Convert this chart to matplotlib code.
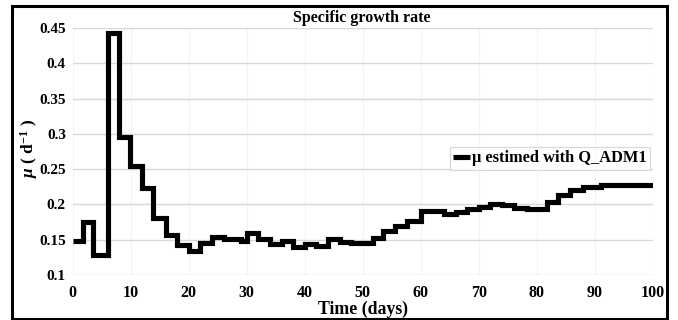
import matplotlib
matplotlib.use("Agg")
import matplotlib.pyplot as plt
from matplotlib.patches import Rectangle

# Step edges (days) and specific growth rate values (d^-1)
time_days = [0, 1.8, 3.5, 6.1, 8, 9.9, 11.9, 13.9, 16, 18, 20, 22, 24, 26, 29,
             30, 32, 34, 36, 38, 40, 42, 44, 46, 48, 51.8, 53.5, 55.6, 57.6,
             60, 64, 66, 68, 70, 72, 74, 76, 78.3, 81.8, 83.7, 85.7, 88, 91,
             95.6, 100]
mu_values = [0.148, 0.175, 0.129, 0.443, 0.296, 0.254, 0.223, 0.181, 0.157,
             0.143, 0.134, 0.145, 0.154, 0.151, 0.148, 0.159, 0.151, 0.144,
             0.148, 0.140, 0.144, 0.141, 0.151, 0.147, 0.145, 0.152, 0.162,
             0.170, 0.176, 0.190, 0.186, 0.189, 0.193, 0.197, 0.201, 0.199,
             0.195, 0.194, 0.204, 0.214, 0.220, 0.225, 0.227, 0.228, 0.228]

x_ticks = [0, 10, 20, 30, 40, 50, 60, 70, 80, 90, 100]
y_ticks = [0.1, 0.15, 0.2, 0.25, 0.3, 0.35, 0.4, 0.45]
y_tick_labels = ["0.1", "0.15", "0.2", "0.25", "0.3", "0.35", "0.4", "0.45"]

title = "Specific growth rate"
x_label = "Time (days)"
y_label = r"$\mu$ ( d$^{-1}$ )"
legend_label = "\u03bc estimed with Q_ADM1"

plt.rcParams["font.family"] = ["Liberation Serif", "DejaVu Serif"]
plt.rcParams["font.weight"] = "bold"
plt.rcParams["mathtext.fontset"] = "custom"
plt.rcParams["mathtext.rm"] = "Liberation Serif:bold"
plt.rcParams["mathtext.it"] = "Liberation Serif:italic:bold"

W, H = 678, 320
fig = plt.figure(figsize=(W / 100, H / 100), dpi=100)
left, right, top, bottom = 72.7, 652.7, 28, 275
ax = fig.add_axes([left / W, 1 - bottom / H, (right - left) / W, (bottom - top) / H])

ax.plot(time_days, mu_values, drawstyle="steps-post", color="black", lw=3.7,
        solid_joinstyle="miter", solid_capstyle="butt", label=legend_label)

ax.set_xlim(0, 100)
ax.set_ylim(0.1, 0.45)
ax.set_xticks(x_ticks)
ax.set_yticks(y_ticks)
ax.set_yticklabels(y_tick_labels)
ax.tick_params(axis="both", length=0)
ax.tick_params(axis="x", pad=7, labelsize=11.5)
ax.tick_params(axis="y", pad=5, labelsize=11)
for lab in ax.get_xticklabels() + ax.get_yticklabels():
    lab.set_fontweight("bold")

ax.grid(axis="y", color="#d8d8d8", lw=1.0)
ax.grid(axis="x", color="#f3f3f3", lw=0.8)
ax.set_axisbelow(True)
for s in ax.spines.values():
    s.set_visible(False)

ax.set_xlabel(x_label, fontsize=12.8, fontweight="bold")
ax.xaxis.set_label_coords(0.5, (bottom - 309) / (bottom - top))
ax.xaxis.label.set_verticalalignment("center")
ax.set_ylabel(y_label, fontsize=12.5, fontweight="bold")
ax.yaxis.set_label_coords((29 - left) / (right - left), (bottom - 148) / (bottom - top))
ax.yaxis.label.set_verticalalignment("center")

fig.text(362 / W, 1 - 22.5 / H, title, ha="center", va="baseline",
         fontsize=11.5, fontweight="bold")

leg = ax.legend(loc="upper right",
                bbox_to_anchor=((650 - left) / (right - left), (bottom - 147) / (bottom - top)),
                borderaxespad=0, handlelength=1.0, handletextpad=0.15,
                borderpad=0.2, frameon=True, fancybox=False,
                prop={"weight": "bold", "size": 11.8})
leg.get_frame().set_edgecolor("#cfcfcf")
leg.get_frame().set_linewidth(0.8)

fig.patches.append(Rectangle((12 / W, 1.5 / H), (667 - 12) / W, (318.5 - 6) / H,
                             transform=fig.transFigure, fill=False,
                             edgecolor="black", lw=2.2))

fig.savefig("out.png", dpi=100)
